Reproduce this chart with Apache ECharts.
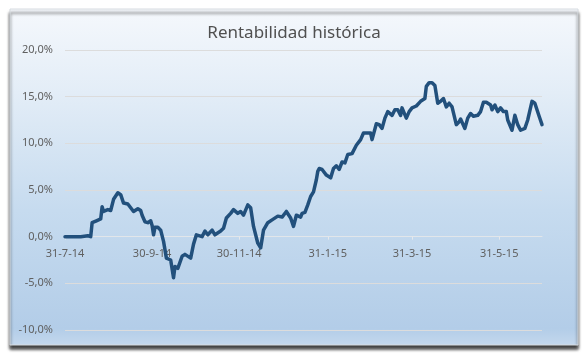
<!DOCTYPE html>
<html>
<head>
<meta charset="utf-8">
<script src="https://cdn.jsdelivr.net/npm/echarts@6/dist/echarts.min.js"></script>
<style>
  html, body { margin: 0; padding: 0; background: #ffffff; }
  #chart { width: 588px; height: 358px; }
</style>
</head>
<body>
<div id="chart"></div>
<script>
// Chart data
const chartTitle = 'Rentabilidad histórica';

const dates = [
  '2014-07-31','2014-08-05','2014-08-11','2014-08-16','2014-08-18','2014-08-19','2014-08-22','2014-08-25',
  '2014-08-26','2014-08-27','2014-08-30','2014-09-01','2014-09-03','2014-09-06','2014-09-08','2014-09-10',
  '2014-09-13','2014-09-15','2014-09-17','2014-09-20','2014-09-22','2014-09-23','2014-09-25','2014-09-27',
  '2014-09-29','2014-09-30','2014-10-01','2014-10-02','2014-10-04','2014-10-06','2014-10-08','2014-10-10',
  '2014-10-13','2014-10-15','2014-10-16','2014-10-18','2014-10-21','2014-10-23','2014-10-27','2014-10-29',
  '2014-10-31','2014-11-04','2014-11-06','2014-11-08','2014-11-11','2014-11-13','2014-11-17','2014-11-19',
  '2014-11-21','2014-11-24','2014-11-26','2014-11-29','2014-12-01','2014-12-03','2014-12-06','2014-12-08',
  '2014-12-10','2014-12-13','2014-12-15','2014-12-17','2014-12-20','2014-12-23','2014-12-27','2014-12-30',
  '2015-01-02','2015-01-05','2015-01-07','2015-01-09','2015-01-12','2015-01-13','2015-01-15','2015-01-17',
  '2015-01-19','2015-01-21','2015-01-23','2015-01-24','2015-01-25','2015-01-27','2015-01-28','2015-01-30',
  '2015-02-02','2015-02-04','2015-02-06','2015-02-08','2015-02-10','2015-02-12','2015-02-14','2015-02-17',
  '2015-02-20','2015-02-23','2015-02-25','2015-02-28','2015-03-02','2015-03-03','2015-03-06','2015-03-08',
  '2015-03-10','2015-03-12','2015-03-14','2015-03-17','2015-03-19','2015-03-21','2015-03-23','2015-03-24',
  '2015-03-27','2015-03-29','2015-03-31','2015-04-03','2015-04-06','2015-04-09','2015-04-10','2015-04-12',
  '2015-04-14','2015-04-16','2015-04-18','2015-04-20','2015-04-22','2015-04-24','2015-04-26','2015-04-28',
  '2015-05-01','2015-05-03','2015-05-04','2015-05-07','2015-05-09','2015-05-11','2015-05-13','2015-05-16',
  '2015-05-18','2015-05-20','2015-05-22','2015-05-25','2015-05-26','2015-05-28','2015-05-30','2015-06-01',
  '2015-06-03','2015-06-05','2015-06-06','2015-06-09','2015-06-11','2015-06-13','2015-06-15','2015-06-18',
  '2015-06-20','2015-06-23','2015-06-25','2015-06-26','2015-06-28','2015-06-30'
];

const returns = [
  0.0, 0.0, 0.0, 0.1, 0.0, 1.5, 1.7, 1.9,
  3.2, 2.7, 2.9, 2.8, 4.0, 4.7, 4.5, 3.6,
  3.5, 3.1, 2.7, 3.0, 2.8, 2.3, 1.6, 1.5,
  1.7, 1.2, 0.2, 1.0, 1.0, 0.7, -0.5, -2.3,
  -2.5, -4.4, -3.2, -3.4, -2.1, -1.9, -2.3, -0.8,
  0.2, 0.0, 0.6, 0.2, 0.7, 0.2, 0.6, 0.9,
  2.0, 2.5, 2.9, 2.5, 2.7, 2.3, 3.4, 3.1,
  1.1, -0.7, -1.2, 0.7, 1.5, 1.8, 2.2, 2.1,
  2.7, 2.0, 1.1, 2.3, 2.1, 2.5, 2.6, 3.4,
  4.3, 4.8, 6.1, 7.0, 7.3, 7.2, 7.0, 6.6,
  6.3, 7.3, 7.6, 7.2, 8.0, 7.9, 8.8, 8.9,
  9.8, 10.4, 11.1, 11.1, 11.1, 10.4, 12.1, 12.0,
  11.6, 12.7, 13.4, 13.0, 13.6, 13.6, 13.0, 13.8,
  12.7, 13.4, 13.8, 14.0, 14.5, 14.8, 16.1, 16.5,
  16.5, 16.2, 14.3, 14.5, 14.8, 13.9, 14.3, 13.9,
  12.0, 12.3, 12.6, 11.6, 12.7, 13.2, 12.9, 13.0,
  13.4, 14.4, 14.4, 14.1, 13.6, 14.1, 13.4, 13.8,
  13.4, 13.4, 12.5, 11.4, 13.0, 12.0, 11.4, 11.6,
  12.5, 14.5, 14.3, 14.5, 12.9, 12.0
];

const xTickDates = ['2014-07-31','2014-09-30','2014-11-30','2015-01-31','2015-03-31','2015-05-31'];
const xRange = ['2014-07-31', '2015-06-30'];
const yTicks = [-10, -5, 0, 5, 10, 15, 20];

function ts(s) {
  const p = s.split('-').map(Number);
  return new Date(p[0], p[1] - 1, p[2]).getTime();
}

const chart = echarts.init(document.getElementById('chart'), null, { renderer: 'canvas' });

const font = '"Noto Sans", "Open Sans", sans-serif';

const gridTop = 50, gridBottom = 28, chartH = 358;
const plotH = chartH - gridTop - gridBottom;
const yMin = yTicks[0], yMax = yTicks[yTicks.length - 1];
// place the date axis on the 0 line (offset from bottom of the grid)
const zeroOffset = -plotH * (0 - yMin) / (yMax - yMin);

chart.setOption({
  animation: false,
  backgroundColor: '#ffffff',
  textStyle: { fontFamily: font },
  graphic: [{
    type: 'rect',
    z: -10,
    silent: true,
    shape: { x: 10, y: 9, width: 568, height: 336 },
    style: {
      fill: new echarts.graphic.LinearGradient(0, 0, 0, 1, [
        { offset: 0, color: '#f5f8fc' },
        { offset: 0.25, color: '#e3edf7' },
        { offset: 0.6, color: '#c6dbef' },
        { offset: 0.95, color: '#b3cde8' },
        { offset: 1, color: '#c4d8ed' }
      ]),
      stroke: '#d6dbe0',
      lineWidth: 1,
      shadowColor: 'rgba(0,0,0,0.75)',
      shadowBlur: 3,
      shadowOffsetY: 4,
      shadowOffsetX: 0
    }
  }],
  title: {
    text: chartTitle,
    left: 'center',
    top: 20,
    textStyle: { fontFamily: font, fontSize: 17, fontWeight: 'normal', color: '#505050' }
  },
  grid: { left: 65, right: 46, top: gridTop, bottom: gridBottom },
  xAxis: {
    type: 'value',
    position: 'bottom',
    offset: zeroOffset,
    min: ts(xRange[0]),
    max: ts(xRange[1]),
    axisLine: { show: true, onZero: false, lineStyle: { color: '#e2e6ea', width: 1 } },
    axisTick: { show: true, customValues: xTickDates.map(ts), length: 3, lineStyle: { color: '#e4e8ec' } },
    splitLine: { show: false },
    axisLabel: {
      customValues: xTickDates.map(ts),
      showMinLabel: true,
      showMaxLabel: true,
      margin: 12,
      color: '#606060',
      fontSize: 11,
      fontFamily: font,
      formatter: function (v) {
        const d = new Date(v);
        return d.getDate() + '-' + (d.getMonth() + 1) + '-' + String(d.getFullYear()).slice(2);
      }
    }
  },
  yAxis: {
    type: 'value',
    min: yMin,
    max: yMax,
    interval: 5,
    axisLine: { show: false, onZero: false },
    axisTick: { show: false },
    splitLine: { lineStyle: { color: '#dcdcdc', width: 1 } },
    axisLabel: {
      margin: 12,
      color: '#606060',
      fontSize: 11,
      fontFamily: font,
      formatter: function (v) { return v.toFixed(1).replace('.', ',') + '%'; }
    }
  },
  series: [{
    type: 'line',
    data: dates.map((d, i) => [ts(d), returns[i]]),
    showSymbol: false,
    symbol: 'none',
    lineStyle: { color: '#22507c', width: 3.5, cap: 'round', join: 'round' },
    z: 5
  }]
});
</script>
</body>
</html>
